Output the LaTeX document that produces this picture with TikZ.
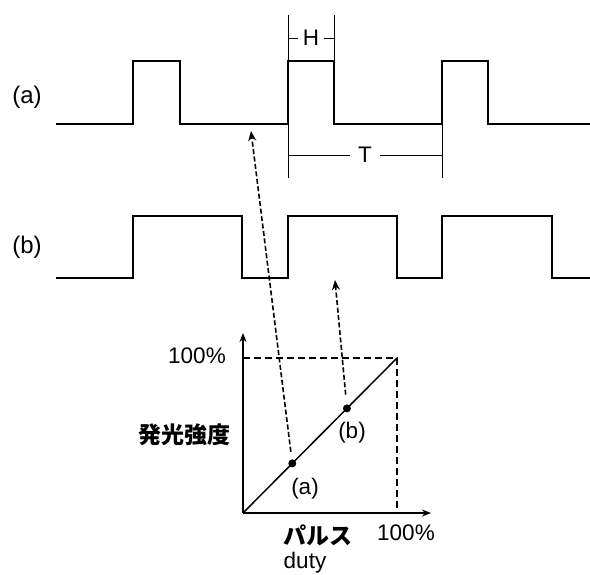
\documentclass[tikz,border=0pt]{standalone}
\usepackage{fontspec}
\setmainfont{Liberation Sans}
\newfontfamily\jpfont{Noto Sans CJK JP}
\usepackage{tikz}
\usetikzlibrary{arrows.meta,positioning,calc}

\begin{document}
\begin{tikzpicture}[
    x=1pt, y=-1pt,
    >={Stealth[length=9pt,width=7pt]},
    wave/.style={line width=2pt, line join=miter},
    dim/.style={line width=0.9pt},
    lbl/.style={font=\fontsize{22.5}{22.5}\selectfont, inner sep=0pt},
    side/.style={font=\fontsize{24}{24}\selectfont, inner sep=0pt},
    jp/.style={font=\fontsize{23}{23}\selectfont\jpfont\bfseries, inner sep=0pt},
    axis/.style={line width=2pt, ->},
    guide/.style={line width=1.8pt, dash pattern=on 7pt off 4pt},
    link/.style={line width=1.6pt, dash pattern=on 5pt off 2.5pt, ->, >={Stealth[length=10pt,width=8pt]}},
    dot/.style={circle, fill, inner sep=0pt, minimum size=8pt},
]
\useasboundingbox (0,0) rectangle (590,574);

% Pulse trains
\node[side] (la) at (27,97) {(a)};
\node[side] (lb) at (27,247) {(b)};
\draw[wave] (56,124) -| (133,61) -| (180,124) -| (288,61) -| (334,124) -| (442,61) -| (488,124) -- (590,124);
\draw[wave] (56,278) -| (133,216) -| (242,278) -| (288,216) -| (397,278) -| (442,216) -| (552,278) -- (590,278);

% H and T
\draw[dim] (288,15) -- (288,61);
\draw[dim] (334,15) -- (334,61);
\draw[dim] (288,38) -- node[lbl, fill=white, inner xsep=5pt] (h) {H} (334,38);
\draw[dim] (288,124) -- (288,178);
\draw[dim] (442,124) -- (442,178);
\draw[dim] (288,155) -- node[lbl, fill=white, inner xsep=8pt] (t) {T} (442,155);

% Duty vs. intensity
\coordinate (o) at (243,513);
\coordinate (top) at (397,358);
\draw[axis] (o) -- (243,333);
\draw[axis] (o) -- (431,513);
\draw[guide] (o |- top) -- (top) -- (top |- o);
\draw[line width=1.5pt] (o) -- (top)
    node[pos=0.32, dot] (pa) {}
    node[pos=0.675, dot] (pb) {};
\node[lbl] (ya) at (197,356) {100\%};
\node[lbl] (xa) at (406,533) {100\%};
\node[jp] (ylab) at (184,435) {発光強度};
\node[jp] (xlab) at (318,535) {パルス};
\node[lbl] (duty) at (305,563) {duty};
\node[lbl] (pla) at (305,489) {(a)};
\node[lbl] (plb) at (352,433) {(b)};

% Links to the pulse trains
\coordinate (ta) at (251,131);
\coordinate (tb) at (335,280);
\draw[link, shorten <=7pt] (pa) -- (ta);
\draw[link, shorten <=9pt] (pb) -- (tb);

\end{tikzpicture}
\end{document}
